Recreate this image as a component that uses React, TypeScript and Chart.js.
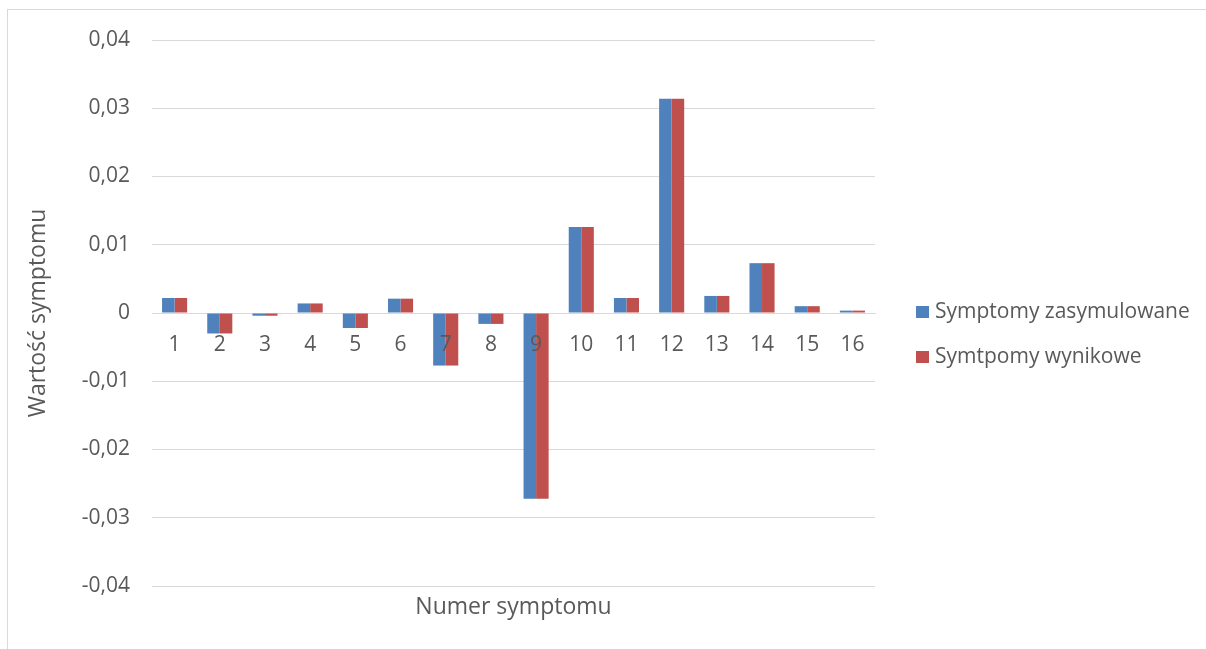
import React, { useEffect, useRef } from "react";
import { Chart, registerables } from "chart.js";

Chart.register(...registerables);

const categories = ["1", "2", "3", "4", "5", "6", "7", "8", "9", "10", "11", "12", "13", "14", "15", "16"];
const simulated = [0.0022, -0.003, -0.0004, 0.0014, -0.0022, 0.0021, -0.0077, -0.0016, -0.0272, 0.0126, 0.0022, 0.0314, 0.0025, 0.0073, 0.001, 0.00035];
const resulting = [0.0022, -0.003, -0.0004, 0.0014, -0.0022, 0.0021, -0.0077, -0.0016, -0.0272, 0.0126, 0.0022, 0.0314, 0.0025, 0.0073, 0.001, 0.00035];
const seriesNames = ["Symptomy zasymulowane", "Symtpomy wynikowe"];
const seriesColors = ["#4F81BD", "#C0504D"];
const xTitle = "Numer symptomu";
const yTitle = "Wartość symptomu";

const FONT = "'Open Sans', 'Liberation Sans', sans-serif";
const TEXT = "#595959";

const decorPlugin = {
  id: "decor",
  beforeDraw(chart: any) {
    const ctx = chart.ctx;
    ctx.save();
    ctx.fillStyle = "#ffffff";
    ctx.fillRect(0, 0, chart.width, chart.height);
    ctx.strokeStyle = "#d9d9d9";
    ctx.lineWidth = 1;
    ctx.strokeRect(7.5, 9.5, chart.width + 10, chart.height + 10);
    ctx.restore();
  },
  afterDraw(chart: any) {
    const ctx = chart.ctx;
    const area = chart.chartArea;
    ctx.save();
    ctx.fillStyle = TEXT;
    ctx.font = `23px ${FONT}`;
    ctx.textAlign = "center";
    ctx.textBaseline = "middle";
    ctx.fillText(xTitle, (area.left + area.right) / 2, 607);
    // legend
    ctx.font = `21px ${FONT}`;
    ctx.textAlign = "left";
    const ys = [312, 357];
    chart.data.datasets.forEach((ds: any, i: number) => {
      ctx.fillStyle = ds.backgroundColor;
      ctx.fillRect(916, ys[i] - 6, 13, 12);
      ctx.fillStyle = TEXT;
      ctx.fillText(ds.label, 935, ys[i]);
    });
    ctx.restore();
  },
};

export default function App() {
  const ref = useRef<HTMLCanvasElement | null>(null);
  useEffect(() => {
    if (!ref.current) return;
    const chart = new Chart(ref.current, {
      type: "bar",
      data: {
        labels: categories,
        datasets: [
          { label: seriesNames[0], data: simulated, backgroundColor: seriesColors[0] },
          { label: seriesNames[1], data: resulting, backgroundColor: seriesColors[1] },
        ],
      },
      options: {
        responsive: false,
        animation: false,
        devicePixelRatio: 1,
        layout: { padding: { left: 0, right: 331, top: 40, bottom: 63 } },
        datasets: { bar: { categoryPercentage: 0.555, barPercentage: 1 } },
        plugins: { legend: { display: false }, tooltip: { enabled: false } },
        scales: {
          x: {
            position: { y: 0 },
            grid: { display: false, drawTicks: false },
            border: { display: true, color: "#d9d9d9", width: 1 },
            ticks: { z: 1, color: TEXT, font: { family: FONT, size: 21 }, padding: 19, maxRotation: 0, autoSkip: false },
          },
          y: {
            min: -0.04,
            max: 0.04,
            afterFit: (scale: any) => {
              scale.width = 152;
            },
            grid: { color: "#d9d9d9", lineWidth: 1, drawTicks: false },
            border: { display: false },
            ticks: {
              stepSize: 0.01,
              padding: 22,
              color: TEXT,
              font: { family: FONT, size: 21 },
              callback: (v: any) => {
                const n = Number(v);
                if (Math.abs(n) < 1e-9) return "0";
                return n.toFixed(2).replace(".", ",");
              },
            },
            title: {
              display: true,
              text: yTitle,
              color: TEXT,
              font: { family: FONT, size: 23 },
              padding: { top: 25, bottom: 0 },
            },
          },
        },
      },
      plugins: [decorPlugin],
    } as any);
    return () => chart.destroy();
  }, []);
  return (
    <div style={{ position: "fixed", left: 0, top: 0, width: 1206, height: 649 }}>
      <canvas ref={ref} width={1206} height={649} style={{ display: "block" }} />
    </div>
  );
}
